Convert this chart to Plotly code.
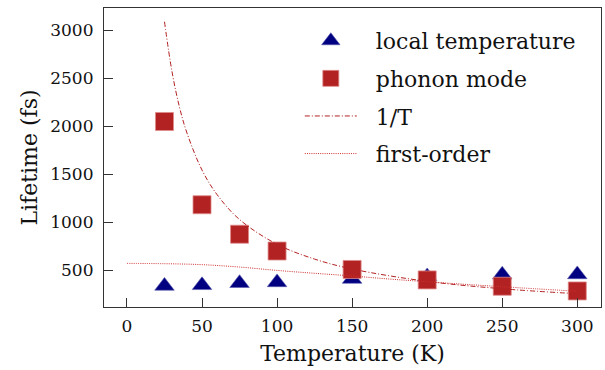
import plotly.graph_objects as go

# Data
temps = [25, 50, 75, 100, 150, 200, 250, 300]
local_temperature = [338, 345, 367, 375, 410, 437, 455, 458]
phonon_mode = [2051, 1184, 877, 702, 510, 401, 335, 286]

inv_T_temps = [25, 30, 35, 40, 50, 60, 75, 100, 125, 150, 200, 250, 300]
inv_T_vals = [3090, 2570, 2200, 1930, 1545, 1290, 1030, 772, 618, 515, 386, 309, 257]

first_order_temps = [0, 25, 50, 75, 100, 125, 150, 175, 200, 250, 300]
first_order_vals = [573, 570, 560, 535, 500, 470, 442, 410, 382, 330, 283]

x_ticks = [0, 50, 100, 150, 200, 250, 300]
y_ticks = [500, 1000, 1500, 2000, 2500, 3000]

FONT = "DejaVu Serif"
NBSP = "\u00a0\u00a0"

fig = go.Figure()
fig.add_trace(go.Scatter(
    x=temps, y=local_temperature, mode="markers", name=NBSP + "local temperature",
    legendgroup="a",
    marker=dict(symbol="triangle-up", size=17, color="#000080",
                line=dict(color="#5a5ab0", width=0.6)),
))
fig.add_trace(go.Scatter(
    x=temps, y=phonon_mode, mode="markers", name=NBSP + "phonon mode",
    legendgroup="b",
    marker=dict(symbol="square", size=18, color="#b22222",
                line=dict(color="#e08a8a", width=0.8)),
))
fig.add_trace(go.Scatter(
    x=inv_T_temps, y=inv_T_vals, mode="lines", name=NBSP + "1/T",
    legendgroup="c", line_shape="spline",
    line=dict(color="#b22222", width=1, dash="5px,2px,1px,2px"),
))
fig.add_trace(go.Scatter(
    x=first_order_temps, y=first_order_vals, mode="lines", name=NBSP + "first-order",
    legendgroup="d", line_shape="spline",
    line=dict(color="#d03030", width=1, dash="1px,1.2px"),
))

axis_common = dict(
    showline=True, linecolor="#333", linewidth=1.2, mirror=True,
    ticks="inside", ticklen=9, tickwidth=1, tickcolor="#333",
    showgrid=False, zeroline=False,
    tickfont=dict(family=FONT, size=17, color="#111"),
)

fig.update_xaxes(range=[-15.3, 315.8], tickvals=x_ticks,
                 title=dict(text="Temperature (K)", font=dict(family=FONT, size=22, color="#111"), standoff=11),
                 ticklabelstandoff=3, **axis_common)
fig.update_yaxes(range=[119, 3233], tickvals=y_ticks,
                 title=dict(text="Lifetime (fs)", font=dict(family=FONT, size=22, color="#111"), standoff=6),
                 ticklabelstandoff=6, **axis_common)

fig.update_layout(
    width=605, height=370,
    margin=dict(l=104, r=4, t=8, b=63),
    plot_bgcolor="white", paper_bgcolor="white",
    legend=dict(x=0.394, y=0.96, xanchor="left", yanchor="top",
                bgcolor="rgba(0,0,0,0)", borderwidth=0,
                font=dict(family=FONT, size=22, color="#111"),
                itemwidth=52, traceorder="grouped", tracegroupgap=6),
    font=dict(family=FONT),
)

fig.write_html("out.html")
